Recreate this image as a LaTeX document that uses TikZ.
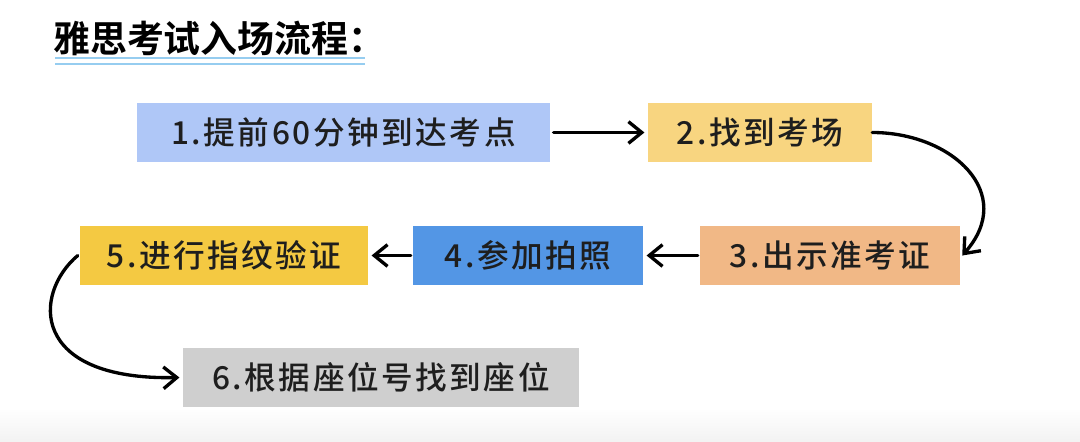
\documentclass[tikz,border=0pt]{standalone}
\usepackage{fontspec}
\setmainfont{Noto Sans CJK SC}
\newfontfamily\stepfont[LetterSpace=8]{Noto Sans CJK SC Medium}
\newfontfamily\titlefont{Noto Sans CJK SC Bold}
\usetikzlibrary{positioning, arrows.meta}
\definecolor{boxBlue}{RGB}{175,199,247}
\definecolor{boxSand}{RGB}{248,213,128}
\definecolor{boxPeach}{RGB}{241,184,134}
\definecolor{boxAzure}{RGB}{83,150,229}
\definecolor{boxGold}{RGB}{244,201,66}
\definecolor{boxGrey}{RGB}{207,207,207}
\definecolor{lineBlue}{RGB}{150,205,240}
\definecolor{inkDark}{RGB}{30,30,30}

\begin{document}
\begin{tikzpicture}[
  x=0.3mm, y=-0.3mm,
  box/.style={minimum height=17.7mm, inner sep=0pt, text=inkDark,
    font=\stepfont\fontsize{27}{30}\selectfont},
  flow/.style={draw=black, line width=1mm, line cap=round,
    -{Straight Barb[length=4mm, width=6.5mm]}},
]
  \useasboundingbox (0,0) rectangle (1080,442);
  \shade[top color=white, bottom color=black!5] (0,408) rectangle (1080,442);

  \node[anchor=west, inner sep=0pt, font=\titlefont\fontsize{31.5}{34}\selectfont]
    (title) at (53,38) {雅思考试入场流程：};
  \draw[lineBlue, line width=0.5mm] (55,58) -- (365,58);
  \draw[lineBlue, line width=0.5mm] (55,64) -- (365,64);

  \node[box, fill=boxBlue,  minimum width=123.9mm] (arrive) at (343.5,132.5) {1.提前60分钟到达考点};
  \node[box, fill=boxSand,  minimum width=67.2mm]  (hall)   at (760,132.5)   {2.找到考场};
  \node[box, fill=boxPeach, minimum width=78mm]    (ticket) at (830,255.5)   {3.出示准考证};
  \node[box, fill=boxAzure, minimum width=69mm]    (photo)  at (528,255.5)   {4.参加拍照};
  \node[box, fill=boxGold,  minimum width=86.4mm]  (finger) at (224,255.5)   {5.进行指纹验证};
  \node[box, fill=boxGrey,  minimum width=118.8mm] (seat)   at (381,377.5)   {6.根据座位号找到座位};

  \draw[flow] ([xshift=1mm]arrive.east) -- ([xshift=-1mm]hall.west);
  \draw[flow] (hall.east) .. controls +(80,0) and +(55,-62) .. ([xshift=0.6mm]ticket.east);
  \draw[flow] ([xshift=-0.6mm]ticket.west) -- ([xshift=1mm]photo.east);
  \draw[flow] ([xshift=-0.6mm]photo.west) -- ([xshift=1mm]finger.east);
  \draw[flow] ([xshift=-0.6mm]finger.west) .. controls +(-45,38) and +(-150,3) .. ([xshift=-1mm]seat.west);
\end{tikzpicture}
\end{document}
